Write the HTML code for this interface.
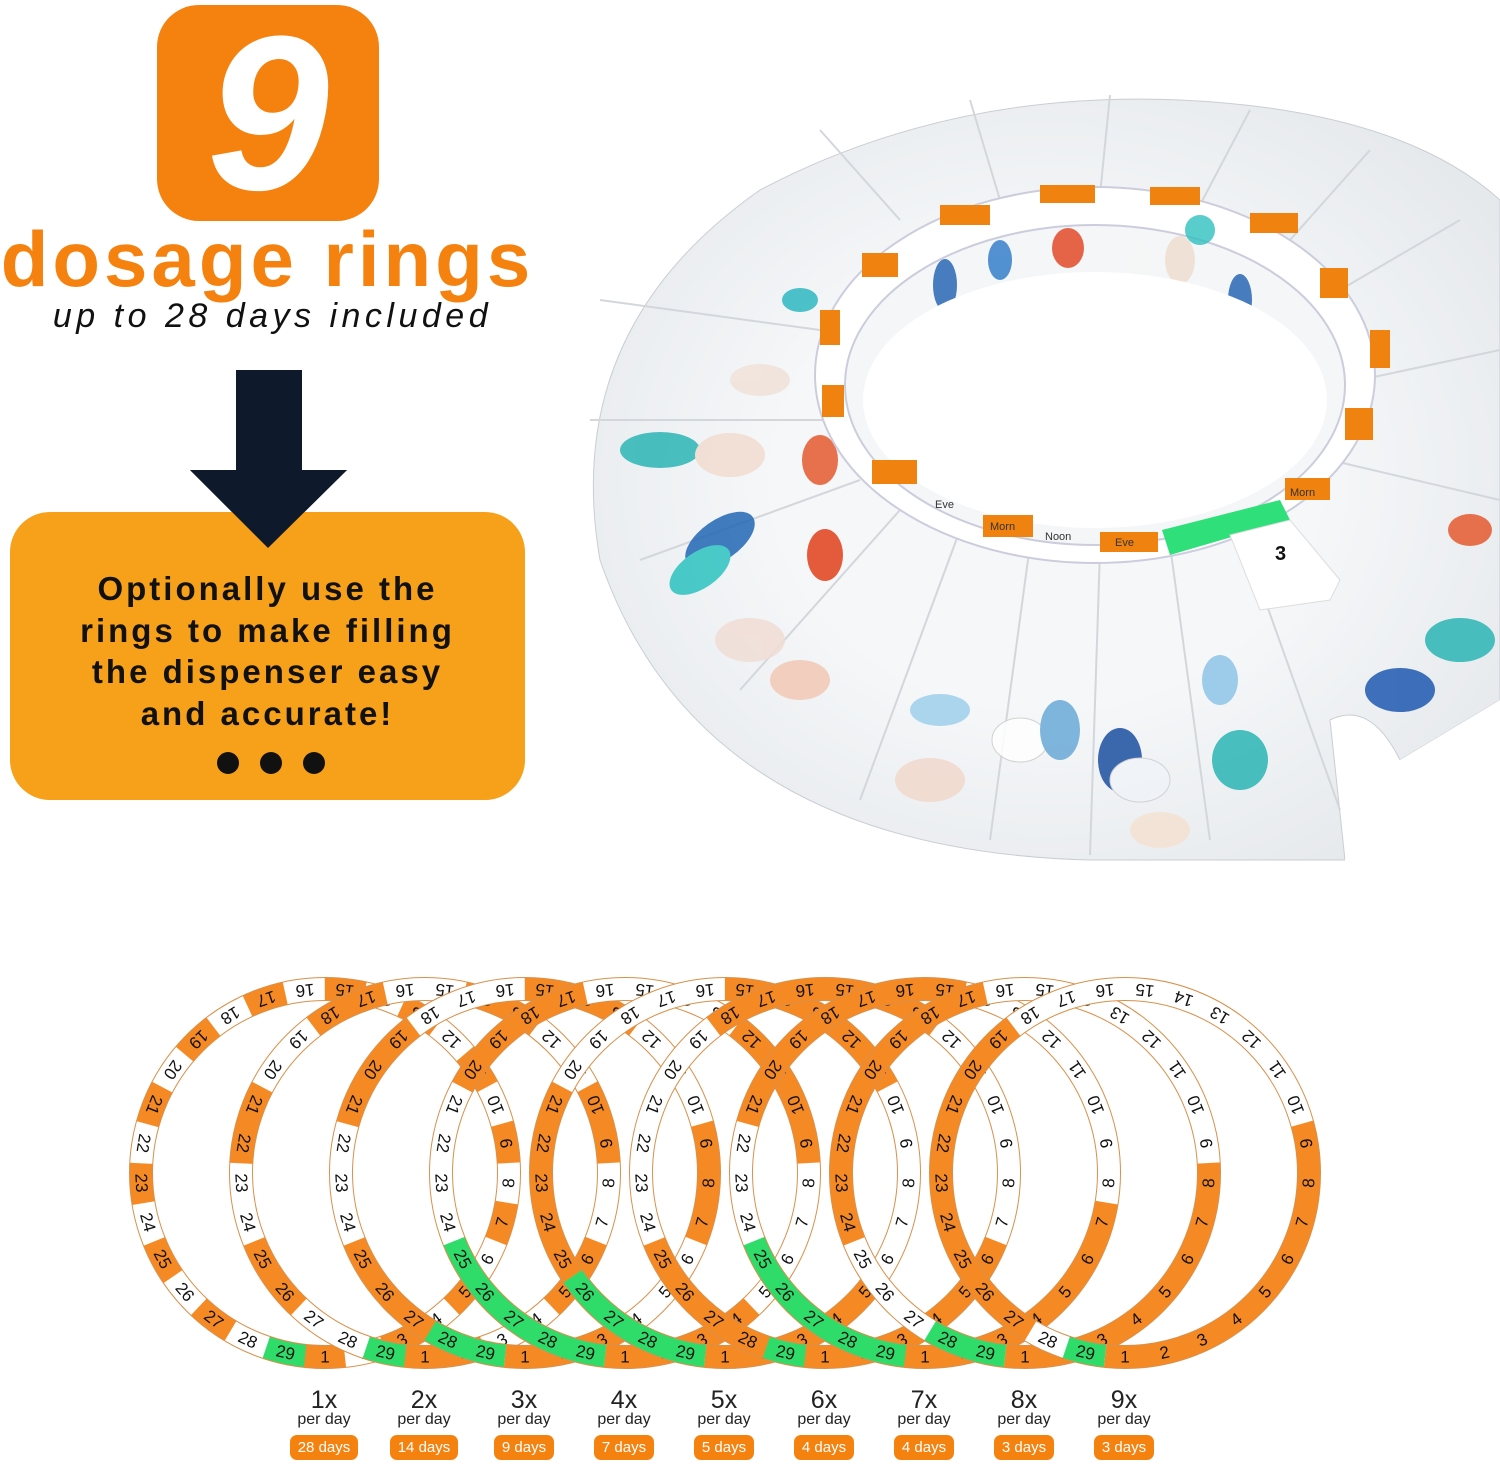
<!DOCTYPE html>
<html><head><meta charset="utf-8"><style>
html,body{margin:0;padding:0;background:#fff;}
body{width:1500px;height:1467px;position:relative;overflow:hidden;font-family:"Liberation Sans",sans-serif;}
.abs{position:absolute;}
.nine{left:157px;top:5px;width:222px;height:216px;background:#f5820f;border-radius:42px;color:#fff;font-weight:900;font-style:italic;font-size:220px;line-height:216px;text-align:center;}
.dos{left:0;top:214px;width:535px;text-align:center;color:#f5820f;font-weight:900;font-size:78px;letter-spacing:4px;white-space:nowrap;}
.up{left:0;top:297px;width:545px;text-align:center;color:#111;font-style:italic;font-size:34px;letter-spacing:4.5px;white-space:nowrap;}
.box{left:10px;top:512px;width:515px;height:288px;background:#f7a019;border-radius:40px;}
.boxt{left:0;top:568px;width:535px;text-align:center;font-weight:900;font-size:33px;line-height:41.5px;color:#111;letter-spacing:3px;white-space:nowrap;}
.dot{width:22px;height:22px;border-radius:50%;background:#111;top:752px;}
.lab{width:100px;text-align:center;top:1388px;color:#222;}
.lab .x{font-size:25px;line-height:24px;font-weight:300;}
.lab .p{font-size:16px;line-height:15px;}
.lab .d{display:inline-block;margin-top:8px;background:#f5820f;color:#fff;font-size:15px;line-height:25px;padding:0 8px;border-radius:7px;}
svg text{font-family:"Liberation Sans",sans-serif;}
</style></head><body>
<div class="abs nine">9</div>
<div class="abs dos">dosage rings</div>
<div class="abs up">up to 28 days included</div>
<svg class="abs" style="left:0;top:0" width="560" height="560"><rect x="236" y="370" width="66" height="102" fill="#0e1a2b"/><polygon points="190,470 347,470 268,548" fill="#0e1a2b"/></svg>
<div class="abs box"></div>
<svg class="abs" style="left:0;top:0" width="560" height="560"><polygon points="190,470 347,470 268,548" fill="#0e1a2b"/></svg>
<div class="abs boxt">Optionally use the<br>rings to make filling<br>the dispenser easy<br>and accurate!</div>
<div class="abs dot" style="left:217px"></div><div class="abs dot" style="left:260px"></div><div class="abs dot" style="left:303px"></div>

<!-- dispenser -->
<svg class="abs" style="left:560px;top:80px" width="940" height="800" viewBox="560 80 940 800">
<defs><radialGradient id="bg" cx="0.5" cy="0.5" r="0.6"><stop offset="0.5" stop-color="#f5f7f9"/><stop offset="1" stop-color="#e6e9ec"/></radialGradient></defs>
<path d="M1345,860 L1090,860 Q700,850 600,560 Q560,330 760,190 Q950,90 1180,100 Q1400,110 1500,200 L1500,700 L1400,760 Q1370,700 1330,720 Z" fill="url(#bg)" stroke="#c9ced3"/>
<g stroke="#d3d7db" stroke-width="2">
<line x1="820" y1="330" x2="600" y2="300"/><line x1="830" y1="420" x2="590" y2="420"/><line x1="860" y1="480" x2="640" y2="560"/>
<line x1="900" y1="510" x2="740" y2="690"/><line x1="960" y1="530" x2="860" y2="800"/><line x1="1030" y1="545" x2="990" y2="840"/>
<line x1="1100" y1="550" x2="1090" y2="855"/><line x1="1170" y1="545" x2="1210" y2="840"/><line x1="1240" y1="530" x2="1340" y2="810"/>
<line x1="900" y1="220" x2="820" y2="130"/><line x1="1000" y1="200" x2="970" y2="100"/><line x1="1100" y1="195" x2="1110" y2="95"/>
<line x1="1200" y1="205" x2="1250" y2="110"/><line x1="1290" y1="240" x2="1370" y2="150"/><line x1="1340" y1="290" x2="1460" y2="220"/>
<line x1="1360" y1="380" x2="1500" y2="350"/><line x1="1330" y1="460" x2="1500" y2="500"/>
</g>
<g opacity="0.85">
<ellipse cx="660" cy="450" rx="40" ry="18" fill="#2bb5b5"/><ellipse cx="730" cy="455" rx="35" ry="22" fill="#f2dcd0"/>
<ellipse cx="820" cy="460" rx="18" ry="25" fill="#e55a2f"/><ellipse cx="720" cy="540" rx="40" ry="20" fill="#2267b5" transform="rotate(-35 720 540)"/>
<ellipse cx="700" cy="570" rx="35" ry="18" fill="#2cc3c0" transform="rotate(-35 700 570)"/><ellipse cx="825" cy="555" rx="18" ry="26" fill="#e2401c"/>
<ellipse cx="750" cy="640" rx="35" ry="22" fill="#f0ddd5"/><ellipse cx="800" cy="680" rx="30" ry="20" fill="#f3c8b5"/>
<ellipse cx="930" cy="780" rx="35" ry="22" fill="#f1d9cc"/><ellipse cx="940" cy="710" rx="30" ry="16" fill="#9fd0ec"/>
<ellipse cx="1020" cy="740" rx="28" ry="22" fill="#fff" stroke="#ccc"/><ellipse cx="1060" cy="730" rx="20" ry="30" fill="#6aaad8"/>
<ellipse cx="1120" cy="760" rx="22" ry="32" fill="#1c4fa0"/><ellipse cx="1140" cy="780" rx="30" ry="22" fill="#f0f4f8" stroke="#ccc"/>
<ellipse cx="1160" cy="830" rx="30" ry="18" fill="#f4e2d2"/><ellipse cx="1220" cy="680" rx="18" ry="25" fill="#8fc4e8"/>
<ellipse cx="1240" cy="760" rx="28" ry="30" fill="#2bb5b5"/><ellipse cx="1400" cy="690" rx="35" ry="22" fill="#1f58b0"/>
<ellipse cx="1460" cy="640" rx="35" ry="22" fill="#2bb5b5"/><ellipse cx="1470" cy="530" rx="22" ry="16" fill="#e55a2f"/>
<ellipse cx="800" cy="300" rx="18" ry="12" fill="#30b8c0"/><ellipse cx="760" cy="380" rx="30" ry="16" fill="#f1e2d8"/>
</g>
<ellipse cx="1095" cy="375" rx="280" ry="188" fill="#fff" stroke="#ccd" stroke-width="2"/>
<ellipse cx="1095" cy="385" rx="250" ry="160" fill="#f4f6f8" stroke="#ccd" stroke-width="2"/>
<g opacity="0.8"><ellipse cx="1068" cy="248" rx="16" ry="20" fill="#e2401c"/><ellipse cx="1000" cy="260" rx="12" ry="20" fill="#2a78c8"/><ellipse cx="945" cy="285" rx="12" ry="26" fill="#1d5fb0"/><ellipse cx="1180" cy="260" rx="15" ry="24" fill="#f0ddd0"/><ellipse cx="1240" cy="300" rx="12" ry="26" fill="#1d5fb0"/><ellipse cx="1140" cy="270" rx="12" ry="30" fill="#f6f6f6"/><ellipse cx="1200" cy="230" rx="15" ry="15" fill="#30c0c0"/></g>
<ellipse cx="1095" cy="400" rx="232" ry="128" fill="#fff"/>
<g fill="#f0820f">
<rect x="1040" y="185" width="55" height="18"/><rect x="1150" y="187" width="50" height="18"/><rect x="940" y="205" width="50" height="20"/>
<rect x="1250" y="213" width="48" height="20"/><rect x="862" y="253" width="36" height="24"/><rect x="1320" y="268" width="28" height="30"/>
<rect x="820" y="310" width="20" height="35"/><rect x="1370" y="330" width="20" height="38"/><rect x="822" y="385" width="22" height="32"/>
<rect x="1345" y="408" width="28" height="32"/><rect x="872" y="460" width="45" height="24"/><rect x="1285" y="478" width="45" height="22"/>
<rect x="983" y="515" width="50" height="22"/><rect x="1100" y="532" width="58" height="20"/></g>
<g font-size="11" fill="#333"><text x="1045" y="540">Noon</text><text x="935" y="508">Eve</text><text x="990" y="530">Morn</text><text x="1115" y="546">Eve</text><text x="1290" y="496">Morn</text></g>
<polygon points="1162,530 1280,500 1290,520 1170,555" fill="#2fe07a"/>
<polygon points="1230,535 1290,520 1340,580 1330,600 1260,610" fill="#fff" stroke="#ddd"/>
<text x="1275" y="560" font-size="20" font-weight="bold" fill="#111">3</text>
<path d="M1345,860 Q1370,720 1330,720 L1400,760 L1500,700 L1500,880 L1345,880 Z" fill="#fff"/>
</svg>

<!-- rings -->
<svg class="abs" style="left:0;top:0" width="1500" height="1467">
<defs>
<g id="nums" font-size="17" text-anchor="middle" dominant-baseline="central" fill="#111">
<text y="184">1</text><text y="184" transform="rotate(-12.41)">2</text><text y="184" transform="rotate(-24.83)">3</text><text y="184" transform="rotate(-37.24)">4</text><text y="184" transform="rotate(-49.66)">5</text><text y="184" transform="rotate(-62.07)">6</text><text y="184" transform="rotate(-74.48)">7</text><text y="184" transform="rotate(-86.9)">8</text><text y="184" transform="rotate(-99.31)">9</text><text y="184" transform="rotate(-111.72)">10</text><text y="184" transform="rotate(-124.14)">11</text><text y="184" transform="rotate(-136.55)">12</text><text y="184" transform="rotate(-148.97)">13</text><text y="184" transform="rotate(-161.38)">14</text><text y="184" transform="rotate(-173.79)">15</text><text y="184" transform="rotate(-186.21)">16</text><text y="184" transform="rotate(-198.62)">17</text><text y="184" transform="rotate(-211.03)">18</text><text y="184" transform="rotate(-223.45)">19</text><text y="184" transform="rotate(-235.86)">20</text><text y="184" transform="rotate(-248.28)">21</text><text y="184" transform="rotate(-260.69)">22</text><text y="184" transform="rotate(-273.1)">23</text><text y="184" transform="rotate(-285.52)">24</text><text y="184" transform="rotate(-297.93)">25</text><text y="184" transform="rotate(-310.34)">26</text><text y="184" transform="rotate(-322.76)">27</text><text y="184" transform="rotate(-335.17)">28</text><text y="184" transform="rotate(-347.59)">29</text>
</g>
</defs>
<g fill="none">
<g transform="translate(325,1173)"><circle r="184" stroke="#fff" stroke-width="23"/><circle r="184" stroke="#f58a25" stroke-width="23" stroke-dasharray="39.866 39.866" transform="rotate(96.207) scale(1,-1)"/><circle r="184" stroke="#2fdc6a" stroke-width="23" stroke-dasharray="39.866 2000" transform="rotate(-251.38) scale(1,-1)"/><circle r="195.5" stroke="#d9904a"/><circle r="172.5" stroke="#d9904a"/><use href="#nums"/></g>
<g transform="translate(425,1173)"><circle r="184" stroke="#fff" stroke-width="23"/><circle r="184" stroke="#f58a25" stroke-width="23" stroke-dasharray="79.73 79.73" transform="rotate(96.207) scale(1,-1)"/><circle r="184" stroke="#2fdc6a" stroke-width="23" stroke-dasharray="39.866 2000" transform="rotate(-251.38) scale(1,-1)"/><circle r="195.5" stroke="#d9904a"/><circle r="172.5" stroke="#d9904a"/><use href="#nums"/></g>
<g transform="translate(525,1173)"><circle r="184" stroke="#fff" stroke-width="23"/><circle r="184" stroke="#f58a25" stroke-width="23" stroke-dasharray="119.6 119.6" transform="rotate(96.207) scale(1,-1)"/><circle r="184" stroke="#2fdc6a" stroke-width="23" stroke-dasharray="79.73 2000" transform="rotate(-238.97) scale(1,-1)"/><circle r="195.5" stroke="#d9904a"/><circle r="172.5" stroke="#d9904a"/><use href="#nums"/></g>
<g transform="translate(625,1173)"><circle r="184" stroke="#fff" stroke-width="23"/><circle r="184" stroke="#f58a25" stroke-width="23" stroke-dasharray="159.46 159.46" transform="rotate(96.207) scale(1,-1)"/><circle r="184" stroke="#2fdc6a" stroke-width="23" stroke-dasharray="199.3 2000" transform="rotate(-201.72) scale(1,-1)"/><circle r="195.5" stroke="#d9904a"/><circle r="172.5" stroke="#d9904a"/><use href="#nums"/></g>
<g transform="translate(725,1173)"><circle r="184" stroke="#fff" stroke-width="23"/><circle r="184" stroke="#f58a25" stroke-width="23" stroke-dasharray="199.3 199.3" transform="rotate(96.207) scale(1,-1)"/><circle r="184" stroke="#2fdc6a" stroke-width="23" stroke-dasharray="159.46 2000" transform="rotate(-214.14) scale(1,-1)"/><circle r="195.5" stroke="#d9904a"/><circle r="172.5" stroke="#d9904a"/><use href="#nums"/></g>
<g transform="translate(825,1173)"><circle r="184" stroke="#fff" stroke-width="23"/><circle r="184" stroke="#f58a25" stroke-width="23" stroke-dasharray="239.2 239.2" transform="rotate(96.207) scale(1,-1)"/><circle r="184" stroke="#2fdc6a" stroke-width="23" stroke-dasharray="39.866 2000" transform="rotate(-251.38) scale(1,-1)"/><circle r="195.5" stroke="#d9904a"/><circle r="172.5" stroke="#d9904a"/><use href="#nums"/></g>
<g transform="translate(925,1173)"><circle r="184" stroke="#fff" stroke-width="23"/><circle r="184" stroke="#f58a25" stroke-width="23" stroke-dasharray="279 279" transform="rotate(96.207) scale(1,-1)"/><circle r="184" stroke="#2fdc6a" stroke-width="23" stroke-dasharray="199.3 2000" transform="rotate(-201.72) scale(1,-1)"/><circle r="195.5" stroke="#d9904a"/><circle r="172.5" stroke="#d9904a"/><use href="#nums"/></g>
<g transform="translate(1025,1173)"><circle r="184" stroke="#fff" stroke-width="23"/><circle r="184" stroke="#f58a25" stroke-width="23" stroke-dasharray="318.9 318.9" transform="rotate(96.207) scale(1,-1)"/><circle r="184" stroke="#2fdc6a" stroke-width="23" stroke-dasharray="79.73 2000" transform="rotate(-238.97) scale(1,-1)"/><circle r="195.5" stroke="#d9904a"/><circle r="172.5" stroke="#d9904a"/><use href="#nums"/></g>
<g transform="translate(1125,1173)"><circle r="184" stroke="#fff" stroke-width="23"/><circle r="184" stroke="#f58a25" stroke-width="23" stroke-dasharray="358.8 358.8" transform="rotate(96.207) scale(1,-1)"/><circle r="184" stroke="#2fdc6a" stroke-width="23" stroke-dasharray="39.866 2000" transform="rotate(-251.38) scale(1,-1)"/><circle r="195.5" stroke="#d9904a"/><circle r="172.5" stroke="#d9904a"/><use href="#nums"/></g>
</g>
</svg>

<div class="abs lab" style="left:274px"><div class="x">1x</div><div class="p">per day</div><div class="d">28 days</div></div>
<div class="abs lab" style="left:374px"><div class="x">2x</div><div class="p">per day</div><div class="d">14 days</div></div>
<div class="abs lab" style="left:474px"><div class="x">3x</div><div class="p">per day</div><div class="d">9 days</div></div>
<div class="abs lab" style="left:574px"><div class="x">4x</div><div class="p">per day</div><div class="d">7 days</div></div>
<div class="abs lab" style="left:674px"><div class="x">5x</div><div class="p">per day</div><div class="d">5 days</div></div>
<div class="abs lab" style="left:774px"><div class="x">6x</div><div class="p">per day</div><div class="d">4 days</div></div>
<div class="abs lab" style="left:874px"><div class="x">7x</div><div class="p">per day</div><div class="d">4 days</div></div>
<div class="abs lab" style="left:974px"><div class="x">8x</div><div class="p">per day</div><div class="d">3 days</div></div>
<div class="abs lab" style="left:1074px"><div class="x">9x</div><div class="p">per day</div><div class="d">3 days</div></div>
</body></html>
